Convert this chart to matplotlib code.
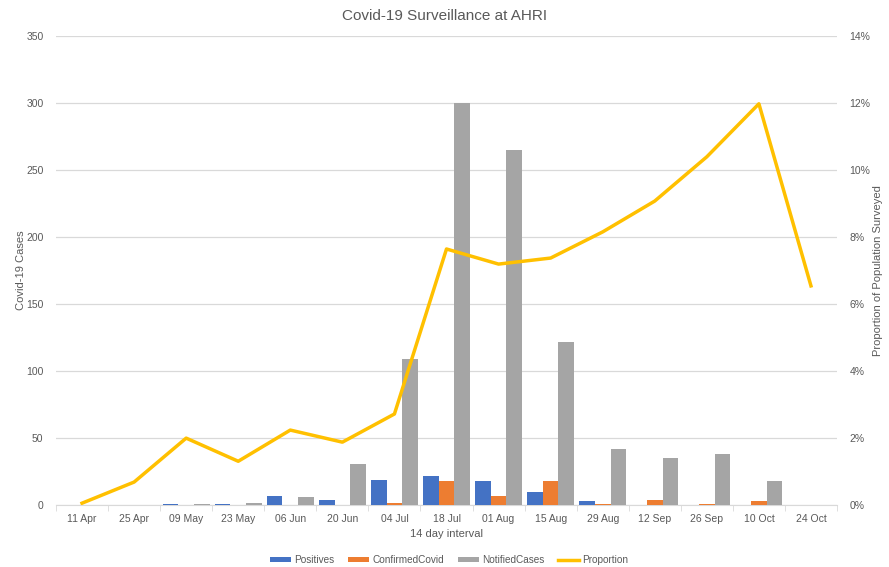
import numpy as np
import matplotlib.pyplot as plt
from matplotlib.ticker import PercentFormatter

plt.rcParams['font.family'] = ['Liberation Sans', 'DejaVu Sans']

# data
dates = ['11 Apr', '25 Apr', '09 May', '23 May', '06 Jun', '20 Jun', '04 Jul', '18 Jul',
         '01 Aug', '15 Aug', '29 Aug', '12 Sep', '26 Sep', '10 Oct', '24 Oct']
positives = [0, 0, 1, 1, 7, 4, 19, 22, 18, 10, 3, 0, 0, 0, 0]
confirmed = [0, 0, 0, 0, 0, 0, 2, 18, 7, 18, 1, 4, 1, 3, 0]
notified = [0, 0, 1, 2, 6, 31, 109, 300, 265, 122, 42, 35, 38, 18, 0]
proportion = [0.06, 0.69, 2.0, 1.31, 2.24, 1.88, 2.72, 7.64, 7.19, 7.37, 8.15, 9.07,
              10.39, 11.97, 6.54]

txt = '#595959'
grid = '#D9D9D9'

fig = plt.figure(figsize=(8.89, 5.67), dpi=100)
ax = fig.add_axes([0.063, 0.109, 0.8785, 0.828])
x = np.arange(len(dates))
w = 0.3

b1 = ax.bar(x - w, positives, w, color='#4472C4', label='Positives', zorder=3)
b2 = ax.bar(x, confirmed, w, color='#ED7D31', label='ConfirmedCovid', zorder=3)
b3 = ax.bar(x + w, notified, w, color='#A5A5A5', label='NotifiedCases', zorder=3)

ax.set_ylim(0, 350)
ax.set_yticks(range(0, 351, 50))
ax.set_xlim(-0.5, len(dates) - 0.5)
ax.set_xticks(x)
ax.set_xticklabels(dates)
ax.set_xticks(np.arange(-0.5, len(dates), 1), minor=True)
ax.tick_params(axis='x', which='major', length=0, labelsize=7.5, colors=txt, pad=6)
ax.tick_params(axis='x', which='minor', length=4, color=grid)
ax.tick_params(axis='y', length=0, labelsize=7.5, colors=txt, pad=9)
ax.grid(axis='y', color=grid, lw=0.9, zorder=0)
for s in ['top', 'right', 'left']:
    ax.spines[s].set_visible(False)
ax.spines['bottom'].set_color(grid)
ax.set_ylabel('Covid-19 Cases', color=txt, fontsize=8)
ax.yaxis.set_label_coords(-0.038, 0.5)
ax.set_xlabel('14 day interval', color=txt, fontsize=8, labelpad=4)

ax2 = ax.twinx()
l1, = ax2.plot(x, proportion, color='#FFC000', lw=2.5, label='Proportion', zorder=4)
ax2.set_ylim(0, 14)
ax2.set_yticks(range(0, 15, 2))
ax2.yaxis.set_major_formatter(PercentFormatter(decimals=0))
ax2.tick_params(axis='y', length=0, labelsize=7.5, colors=txt, pad=9)
for s in ax2.spines.values():
    s.set_visible(False)
ax2.set_ylabel('Proportion of Population Surveyed', color=txt, fontsize=8)
ax2.yaxis.set_label_coords(1.046, 0.5)

fig.suptitle('Covid-19 Surveillance at AHRI', y=0.985, fontsize=11, color=txt)
fig.legend([b1, b2, b3, l1], ['Positives', 'ConfirmedCovid', 'NotifiedCases', 'Proportion'],
           loc='lower center', bbox_to_anchor=(0.505, -0.012), ncol=4, frameon=False,
           fontsize=7.2, labelcolor=txt, handlelength=2.1, handleheight=0.45,
           handletextpad=0.3, columnspacing=1.4)

plt.savefig('out.png', dpi=100)
